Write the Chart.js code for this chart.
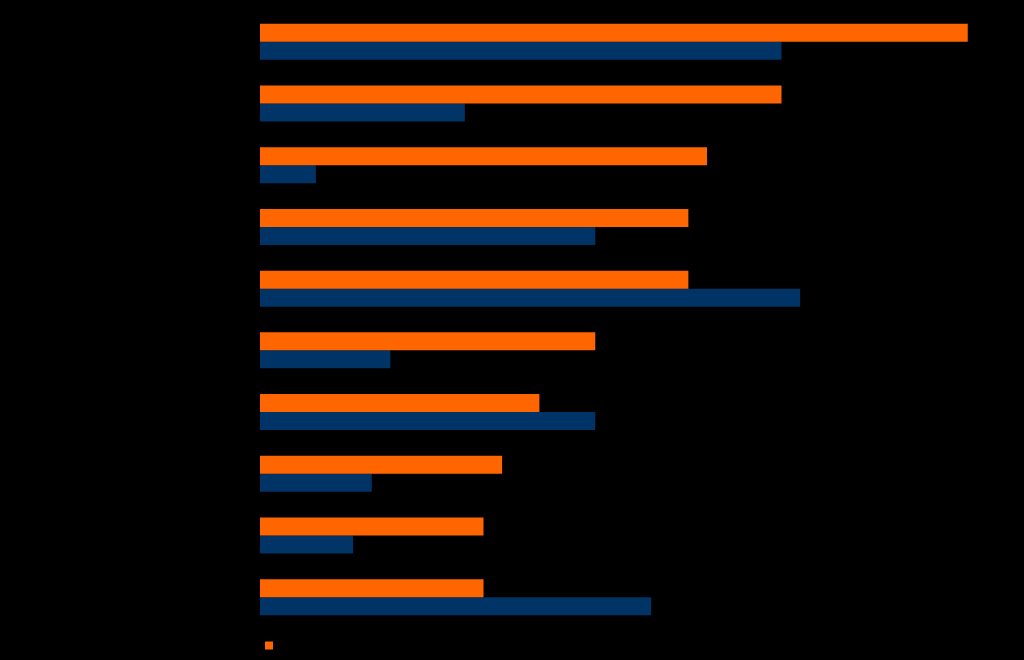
<!DOCTYPE html>
<html>
<head>
<meta charset="utf-8">
<script src="https://cdn.jsdelivr.net/npm/chart.js@4"></script>
<style>
  html, body { margin: 0; padding: 0; background: #000; }
  #wrap { width: 1024px; height: 660px; }
</style>
</head>
<body>
<div id="wrap"><canvas id="chart"></canvas></div>
<script>
// Chart data (all text in the source is black on black)
const categories = ['Category 1', 'Category 2', 'Category 3', 'Category 4', 'Category 5',
                    'Category 6', 'Category 7', 'Category 8', 'Category 9', 'Category 10'];
const orangeValues = [38, 28, 24, 23, 23, 18, 15, 13, 12, 12];
const blueValues = [28, 11, 3, 18, 29, 7, 18, 6, 5, 21];
const seriesNames = ['Series 1', 'Series 2'];

const ctx = document.getElementById('chart').getContext('2d');
new Chart(ctx, {
    type: 'bar',
    data: {
        labels: categories,
        datasets: [{
            label: seriesNames[0],
            data: orangeValues,
            backgroundColor: '#ff6600',
            categoryPercentage: 0.583,
            barPercentage: 1
        }, {
            label: seriesNames[1],
            data: blueValues,
            backgroundColor: '#003366',
            categoryPercentage: 0.583,
            barPercentage: 1
        }]
    },
    options: {
        indexAxis: 'y',
        responsive: true,
        maintainAspectRatio: false,
        animation: false,
        layout: { padding: { top: 11, right: 19 } },
        plugins: {
            tooltip: { enabled: false },
            legend: {
                position: 'bottom',
                align: 'start',
                fullSize: false,
                labels: {
                    color: '#000',
                    boxWidth: 8,
                    boxHeight: 8,
                    padding: 5,
                    font: { size: 9 },
                    filter: item => item.datasetIndex === 0
                }
            }
        },
        scales: {
            x: {
                min: 0,
                max: 40,
                grid: { display: false },
                border: { display: false },
                ticks: { display: false }
            },
            y: {
                grid: { display: false },
                border: { display: false },
                ticks: { color: '#000' },
                afterFit: scale => { scale.width = 260; }
            }
        }
    }
});
</script>
</body>
</html>
